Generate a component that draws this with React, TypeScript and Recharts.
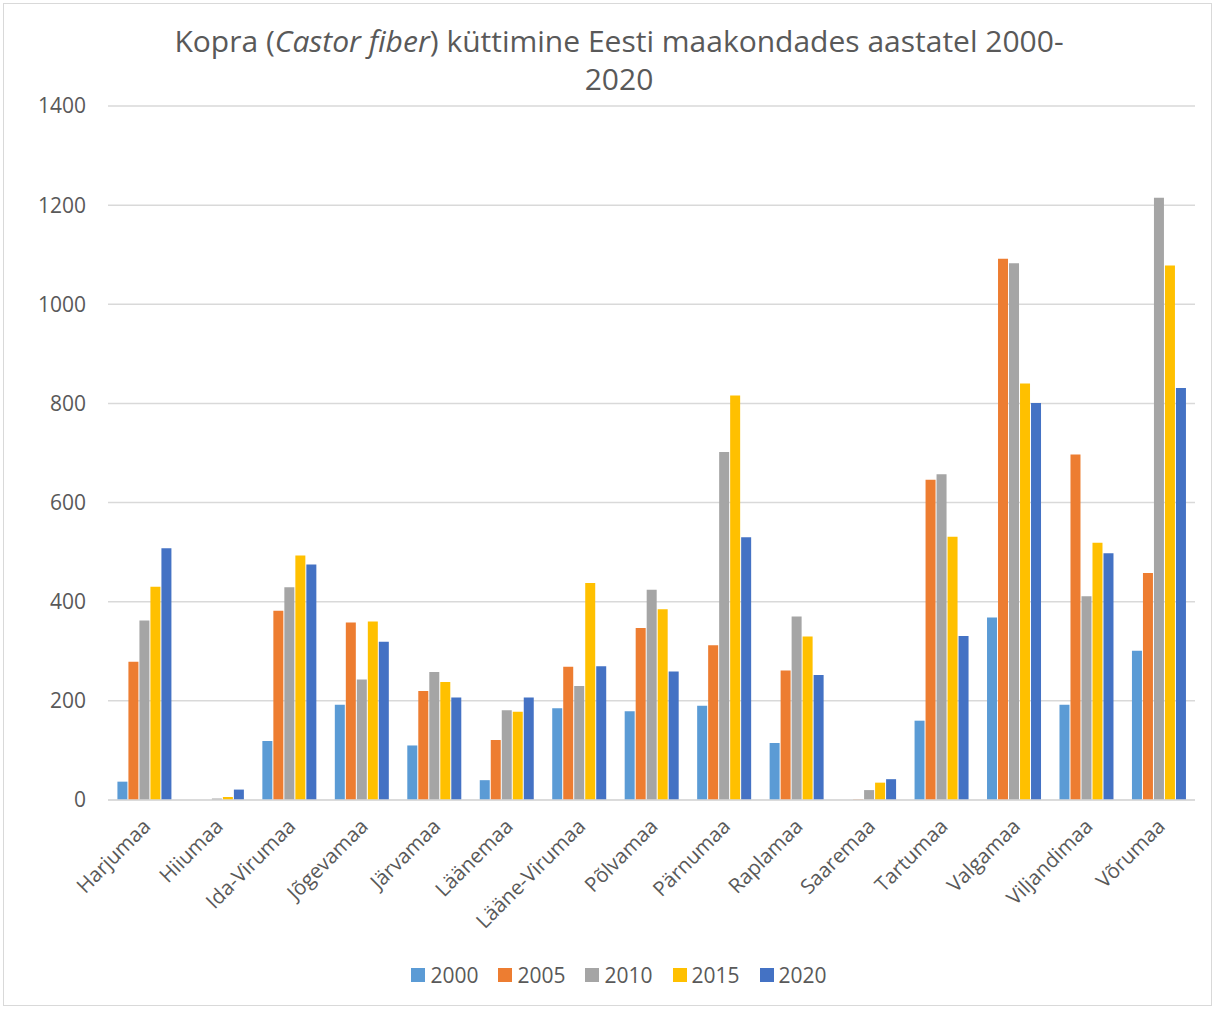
import React from "react";
import { BarChart, Bar, XAxis, YAxis, CartesianGrid } from "recharts";

const counties = [
  "Harjumaa", "Hiiumaa", "Ida-Virumaa", "Jõgevamaa", "Järvamaa", "Läänemaa",
  "Lääne-Virumaa", "Põlvamaa", "Pärnumaa", "Raplamaa", "Saaremaa", "Tartumaa",
  "Valgamaa", "Viljandimaa", "Võrumaa",
];
const y2000 = [37, 0, 119, 192, 110, 40, 185, 179, 190, 115, 0, 160, 368, 192, 301];
const y2005 = [279, 0, 382, 358, 220, 121, 269, 347, 312, 261, 1, 646, 1092, 697, 458];
const y2010 = [362, 3, 429, 243, 258, 181, 230, 424, 702, 370, 20, 657, 1083, 411, 1215];
const y2015 = [430, 6, 493, 360, 238, 178, 438, 385, 816, 330, 35, 531, 840, 519, 1078];
const y2020 = [508, 21, 475, 319, 207, 207, 270, 259, 530, 252, 42, 331, 801, 498, 831];
const yTicks = [0, 200, 400, 600, 800, 1000, 1200, 1400];

const seriesKeys = ["2000", "2005", "2010", "2015", "2020"];
const seriesColors = ["#5B9BD5", "#ED7D31", "#A5A5A5", "#FFC000", "#4472C4"];
const seriesValues = [y2000, y2005, y2010, y2015, y2020];

const data = counties.map((c, i) => {
  const row: Record<string, string | number> = { name: c };
  seriesKeys.forEach((k, j) => {
    row[k] = seriesValues[j][i];
  });
  return row;
});

const FONT = "'Open Sans', 'Liberation Sans', sans-serif";
const TEXT = "#595959";

const XTick = (props: any) => {
  const { x, y, payload } = props;
  return (
    <g transform={`translate(${x + 2},${y + 14})`}>
      <text
        x={0}
        y={0}
        dy={8}
        textAnchor="end"
        transform="rotate(-45)"
        fill={TEXT}
        fontSize={20.5}
        fontFamily={FONT}
      >
        {payload.value}
      </text>
    </g>
  );
};

export default function App() {
  return (
    <div style={{ position: "absolute", left: 0, top: 0, width: 1215, height: 1009, background: "#fff", fontFamily: FONT }}>
      <div style={{ position: "absolute", left: 3, top: 3, width: 1207, height: 1001, border: "1px solid #d9d9d9" }} />
      <div
        style={{
          position: "absolute",
          left: 0,
          top: 22,
          width: 1238,
          textAlign: "center",
          fontSize: 30,
          lineHeight: "38px",
          color: TEXT,
        }}
      >
        Kopra (<i>Castor fiber</i>) küttimine Eesti maakondades aastatel 2000-
        <br />
        2020
      </div>
      <BarChart
        width={1215}
        height={1009}
        data={data}
        margin={{ top: 106, right: 20, left: 48, bottom: 60 }}
        barCategoryGap="13%"
        barGap={1}
        style={{ position: "absolute", left: 0, top: 0 }}
      >
        <CartesianGrid horizontal vertical={false} stroke="#d9d9d9" strokeWidth={1.5} />
        <XAxis
          dataKey="name"
          interval={0}
          height={149}
          tickLine={false}
          axisLine={{ stroke: "#d9d9d9", strokeWidth: 1.5 }}
          tick={<XTick />}
        />
        <YAxis
          width={60}
          domain={[0, 1400]}
          ticks={yTicks}
          interval={0}
          axisLine={false}
          tickLine={false}
          tickMargin={16}
          tick={{ fill: TEXT, fontSize: 21, fontFamily: FONT }}
        />
        {seriesKeys.map((k, j) => (
          <Bar key={k} dataKey={k} fill={seriesColors[j]} isAnimationActive={false} />
        ))}
      </BarChart>
      <div
        style={{
          position: "absolute",
          left: 0,
          top: 961,
          width: 1238,
          display: "flex",
          justifyContent: "center",
          gap: 20,
          fontSize: 21,
          color: TEXT,
        }}
      >
        {seriesKeys.map((k, j) => (
          <div key={k} style={{ display: "flex", alignItems: "center", gap: 5 }}>
            <span style={{ width: 14, height: 14, background: seriesColors[j], display: "inline-block" }} />
            <span>{k}</span>
          </div>
        ))}
      </div>
    </div>
  );
}
